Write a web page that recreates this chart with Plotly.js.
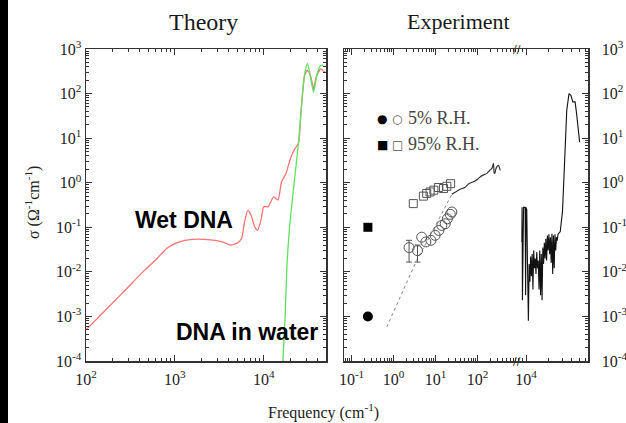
<!DOCTYPE html>
<html>
<head>
<meta charset="utf-8">
<script src="https://cdn.plot.ly/plotly-3.0.1.min.js"></script>
<style>html,body{margin:0;padding:0;background:#fff;}</style>
</head>
<body>
<div id="chart" style="width:626px;height:423px;"></div>
<script>
// ---------- Theory panel ----------
const wetFreq = [100, 141, 251, 437, 631, 813, 1000, 1259, 1778, 2512, 3548, 4169, 5012, 5623, 6026, 6607, 7244, 7943, 8511, 9333, 10000, 11220, 12882, 14454, 15849, 17783, 19953, 22387, 24547, 26303, 28840, 30903, 33884, 36308, 38905, 43652, 46774, 48978];
const wetSigma = [0.0005, 0.001, 0.0032, 0.01, 0.02, 0.034, 0.043, 0.05, 0.054, 0.052, 0.046, 0.040, 0.044, 0.056, 0.12, 0.24, 0.18, 0.10, 0.085, 0.15, 0.29, 0.29, 0.48, 0.41, 1.05, 1.6, 3.5, 5.8, 7.6, 42, 260, 330, 235, 125, 235, 360, 320, 300];
const waterFreq = [16400, 17378, 18197, 19498, 21878, 24547, 26915, 28840, 30903, 33113, 36308, 39811, 43652, 46774];
const waterSigma = [0.0001, 0.001, 0.0126, 0.1, 0.93, 7.6, 71, 275, 470, 275, 107, 275, 430, 430];

// ---------- Experiment panel ----------
const dcX = [0.245];
const dcSigma95 = [0.1];
const dcSigma5 = [0.001];
const sq95X = [2.95, 5.13, 6.17, 7.41, 9.12, 11.7, 15.5, 18.6, 22.9];
const sq95Sigma = [0.34, 0.50, 0.575, 0.62, 0.68, 0.78, 0.74, 0.83, 0.95];
const circ5ErrX = [2.34, 3.72];
const circ5ErrSigma = [0.035, 0.030];
const circ5ErrPlus = [0.016, 0.010];
const circ5ErrMinus = [0.0184, 0.0134];
const circ5X = [4.68, 5.89, 7.76, 9.77, 12.0, 14.1, 17.0, 19.1, 22.4, 24.5];
const circ5Sigma = [0.060, 0.047, 0.051, 0.066, 0.085, 0.11, 0.12, 0.155, 0.195, 0.22];
const dotX = [0.69, 3.55, 10.0, 24.5];
const dotSigma = [0.00058, 0.018, 0.11, 0.55];
const thzX = [24.5, 30, 40, 50, 62, 80, 100, 115, 140, 165, 195, 220, 240, 248, 258, 272, 290, 316, 347];
const thzSigma = [0.55, 0.62, 0.72, 0.78, 0.95, 1.05, 1.2, 1.35, 1.5, 1.6, 1.9, 2.1, 2.7, 1.7, 1.6, 2.0, 2.3, 2.45, 1.9];
const irX = [8780, 8850, 8950, 9150, 9250, 9700, 9850, 10000, 10200, 10400, 10715, 10965, 11220, 11482, 11749, 12023, 12303, 12589, 12882, 13183, 13490, 13804, 14125, 14454, 14791, 15136, 15488, 15849, 16218, 16596, 16982, 17378, 17783, 18197, 18621, 19055, 19498, 19953, 20417, 20893, 21380, 21878, 22387, 22909, 23442, 23988, 24547, 25119, 25704, 26303, 28184, 30200, 31623, 33113, 34277, 36728, 38905, 41210, 44157, 46238, 48417, 50699];
const irSigma = [0.047, 0.28, 0.0023, 0.25, 0.28, 0.28, 0.003, 0.28, 0.25, 0.02, 0.0008, 0.015, 0.006, 0.022, 0.008, 0.025, 0.004, 0.03, 0.012, 0.02, 0.009, 0.028, 0.012, 0.018, 0.004, 0.03, 0.003, 0.025, 0.0023, 0.035, 0.015, 0.045, 0.02, 0.055, 0.018, 0.065, 0.03, 0.07, 0.025, 0.06, 0.016, 0.072, 0.009, 0.065, 0.012, 0.07, 0.03, 0.06, 0.05, 0.07, 0.08, 0.24, 1.35, 7.6, 42, 100, 91, 65, 65, 35, 18, 8.1];

// ---------- tick labels ----------
const yTickVals = [1e-4, 1e-3, 1e-2, 1e-1, 1, 10, 100, 1000];
const yTickText = ['10<sup>-4</sup>', '10<sup>-3</sup>', '10<sup>-2</sup>', '10<sup>-1</sup>', '10<sup>0</sup>', '10<sup>1</sup>', '10<sup>2</sup>', '10<sup>3</sup>'];
const x1TickVals = [100, 1000, 10000];
const x1TickText = ['10<sup>2</sup>', '10<sup>3</sup>', '10<sup>4</sup>'];
const x2TickVals = [0.1, 1, 10, 100];
const x2TickText = ['10<sup>-1</sup>', '10<sup>0</sup>', '10<sup>1</sup>', '10<sup>2</sup>'];
const x3TickVals = [10000];
const x3TickText = ['10<sup>4</sup>'];

function minorTicks(dLo, dHi) {
  const out = [];
  for (let d = dLo; d <= dHi; d++) for (let k = 2; k <= 9; k++) out.push(k * Math.pow(10, d));
  return out;
}

const W = 626, H = 423;
const px = v => v / W;
const py = v => 1 - v / H;

const axisCol = '#333';
const tickFont = {family: 'Liberation Serif, serif', size: 16, color: '#222'};

function baseAxis(extra) {
  return Object.assign({
    type: 'log', showgrid: false, zeroline: false,
    showline: true, linecolor: axisCol, linewidth: 1.5,
    ticks: 'inside', ticklen: 6, tickwidth: 1, tickcolor: axisCol,
    tickmode: 'array', tickfont: tickFont
  }, extra);
}

const yDom = [py(361), py(49)];

const traces = [
  {x: wetFreq, y: wetSigma, xaxis: 'x', yaxis: 'y', mode: 'lines', line: {color: 'rgb(255,115,115)', width: 1.3, shape: 'spline', smoothing: 0.6}},
  {x: waterFreq, y: waterSigma, xaxis: 'x', yaxis: 'y', mode: 'lines', line: {color: 'rgb(95,225,95)', width: 1.3, shape: 'spline', smoothing: 0.6}},
  {x: dotX, y: dotSigma, xaxis: 'x2', yaxis: 'y2', mode: 'lines', line: {color: '#888', width: 1, dash: 'dot'}},
  {x: thzX, y: thzSigma, xaxis: 'x2', yaxis: 'y2', mode: 'lines', line: {color: '#333', width: 1.2, shape: 'spline', smoothing: 0.6}},
  {x: sq95X, y: sq95Sigma, xaxis: 'x2', yaxis: 'y2', mode: 'markers', marker: {symbol: 'square-open', size: 8, color: '#555', line: {width: 1}}},
  {x: circ5X, y: circ5Sigma, xaxis: 'x2', yaxis: 'y2', mode: 'markers', marker: {symbol: 'circle-open', size: 10, color: '#555', line: {width: 1}}},
  {x: circ5ErrX, y: circ5ErrSigma, xaxis: 'x2', yaxis: 'y2', mode: 'markers', marker: {symbol: 'circle-open', size: 10, color: '#555', line: {width: 1}},
   error_y: {type: 'data', symmetric: false, array: circ5ErrPlus, arrayminus: circ5ErrMinus, color: '#555', thickness: 1, width: 3}},
  {x: dcX, y: dcSigma95, xaxis: 'x2', yaxis: 'y2', mode: 'markers', marker: {symbol: 'square', size: 9, color: '#000'}},
  {x: dcX, y: dcSigma5, xaxis: 'x2', yaxis: 'y2', mode: 'markers', marker: {symbol: 'circle', size: 10, color: '#000'}},
  {x: irX, y: irSigma, xaxis: 'x3', yaxis: 'y3', mode: 'lines', line: {color: '#111', width: 1.1}}
];

function ann(x, y, text, font, extra) {
  return Object.assign({xref: 'paper', yref: 'paper', x: px(x), y: py(y), text: text, showarrow: false,
    xanchor: 'center', yanchor: 'middle', font: font}, extra || {});
}
const serif = (s, c) => ({family: 'Liberation Serif, serif', size: s, color: c || '#222'});
const sym = (s, c) => ({family: 'DejaVu Sans', size: s, color: c});
const bold = {family: 'Liberation Sans, Arial, sans-serif', size: 23, color: '#000'};

const layout = {
  width: W, height: H,
  margin: {l: 0, r: 0, t: 0, b: 0},
  paper_bgcolor: '#fff', plot_bgcolor: '#fff',
  showlegend: false,
  font: {family: 'Liberation Serif, serif', color: '#222'},
  xaxis: baseAxis({domain: [px(86), px(326)], range: [2, 4.70], anchor: 'y', tickvals: x1TickVals, ticktext: x1TickText, mirror: 'ticks', ticklabelstandoff: 3,
    minor: {tickmode: 'array', tickvals: minorTicks(2, 4), ticks: 'inside', ticklen: 3, tickcolor: axisCol, showgrid: false}}),
  yaxis: baseAxis({domain: yDom, range: [-4, 3], anchor: 'x', tickvals: yTickVals, ticktext: yTickText, mirror: 'ticks',
    minor: {tickmode: 'array', tickvals: minorTicks(-4, 2), ticks: 'inside', ticklen: 3, tickcolor: axisCol, showgrid: false}}),
  xaxis2: baseAxis({domain: [px(344), px(517)], range: [-1.18, 2.94], anchor: 'y2', tickvals: x2TickVals, ticktext: x2TickText, mirror: 'ticks', ticklabelstandoff: 3,
    minor: {tickmode: 'array', tickvals: minorTicks(-2, 2), ticks: 'inside', ticklen: 3, tickcolor: axisCol, showgrid: false}}),
  xaxis3: baseAxis({domain: [px(517), px(588)], range: [3.88, 4.815], anchor: 'y3', tickvals: x3TickVals, ticktext: x3TickText, mirror: 'ticks', ticklabelstandoff: 3,
    minor: {tickmode: 'array', tickvals: minorTicks(3, 4), ticks: 'inside', ticklen: 3, tickcolor: axisCol, showgrid: false}}),
  yaxis2: baseAxis({domain: yDom, range: [-4, 3], anchor: 'x2', side: 'left', tickvals: yTickVals, ticktext: yTickText, showticklabels: false,
    minor: {tickmode: 'array', tickvals: minorTicks(-4, 2), ticks: 'inside', ticklen: 3, tickcolor: axisCol, showgrid: false}}),
  yaxis3: baseAxis({domain: yDom, range: [-4, 3], anchor: 'x3', side: 'right', tickvals: yTickVals, ticktext: yTickText, ticklabelstandoff: 9,
    minor: {tickmode: 'array', tickvals: minorTicks(-4, 2), ticks: 'inside', ticklen: 3, tickcolor: axisCol, showgrid: false}}),
  shapes: [
    {type: 'rect', xref: 'paper', yref: 'paper', x0: 0, x1: px(8), y0: 0, y1: 1, fillcolor: '#000', line: {width: 0}, layer: 'above'}
  ],
  annotations: [
    ann(203, 22, 'Theory', serif(24, '#1a1a1a')),
    ann(458, 22, 'Experiment', serif(22, '#1a1a1a')),
    ann(323, 411, 'Frequency (cm<sup>-1</sup>)', serif(16)),
    ann(32, 203, 'σ (Ω<sup>-1</sup>cm<sup>-1</sup>)', serif(16), {textangle: -90}),
    ann(184, 220, '<b>Wet DNA</b>', bold),
    ann(247, 332, '<b>DNA in water</b>', bold),
    ann(382, 119, '●', sym(12, '#000')),
    ann(397, 119, '○', sym(12, '#555')),
    ann(406, 118, '5% R.H.', serif(18, '#444'), {xanchor: 'left'}),
    ann(382, 145, '■', sym(12, '#000')),
    ann(397, 145, '□', sym(12, '#555')),
    ann(406, 144, '95% R.H.', serif(18, '#444'), {xanchor: 'left'}),
    ann(517, 49, '//', sym(11, '#333')),
    ann(517, 361, '//', sym(11, '#333'))
  ]
};

Plotly.newPlot('chart', traces, layout, {staticPlot: true, displayModeBar: false});
</script>
</body>
</html>
